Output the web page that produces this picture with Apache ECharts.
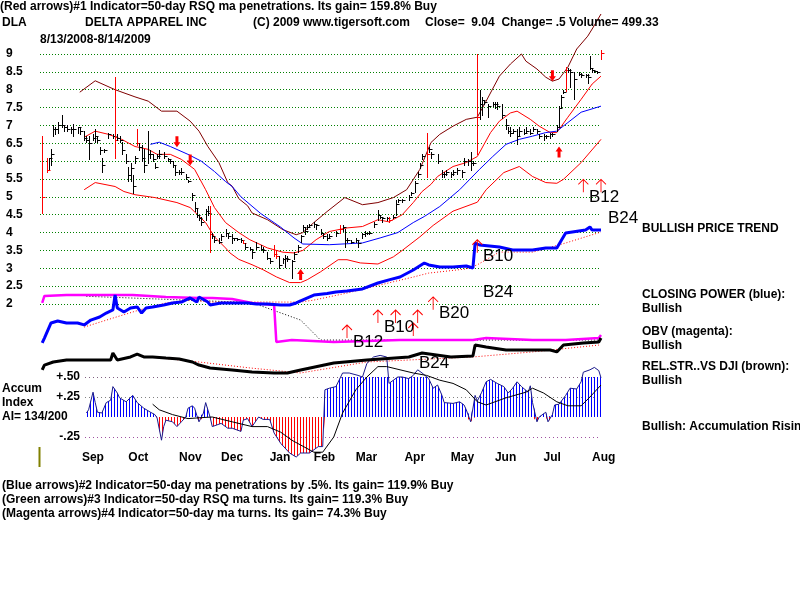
<!DOCTYPE html>
<html>
<head>
<meta charset="utf-8">
<script src="https://cdn.jsdelivr.net/npm/echarts@6/dist/echarts.min.js"></script>
<style>
  html, body { margin: 0; padding: 0; background: #fff; }
  #chart { width: 800px; height: 600px; }
</style>
</head>
<body>
<div id="chart"></div>
<script>
// ---- data (x = trading day since 8/13/2008) ----
// price bars: [day, high, low, close]
var priceBars = [
  [0,6.7,4.55,5.0],[2,6.1,5.7,5.75],[3,6.1,5.77,6.1],[4,6.33,5.9,6.2],[5,7.0,6.7,6.9],[6,6.95,6.75,6.9],
  [7,7.1,6.8,7.0],[9,7.3,6.95,7.0],[10,7.0,6.85,6.95],[11,7.0,6.85,6.9],[13,6.95,6.8,6.9],[14,7.05,6.7,6.9],
  [16,6.95,6.8,6.95],[17,6.95,6.75,6.85],[19,6.85,6.6,6.65],[20,6.7,6.55,6.6],[21,6.7,6.05,6.5],[23,6.75,6.6,6.65],
  [24,6.9,6.55,6.7],[25,6.7,6.55,6.6],[26,6.4,6.2,6.3],[27,6.1,5.7,5.9],[28,6.35,6.25,6.3],[30,6.8,6.65,6.75],
  [32,6.75,6.65,6.7],[33,8.35,6.1,6.6],[34,6.75,6.6,6.65],[35,6.7,6.55,6.6],[36,6.55,6.2,6.3],[38,6.2,5.95,6.0],
  [39,5.85,5.45,5.6],[40,5.95,5.45,5.8],[41,5.6,5.1,5.3],[42,6.15,5.95,6.1],[43,6.9,6.45,6.5],[44,6.5,6.3,6.4],
  [45,6.45,6.0,6.1],[46,6.35,5.7,5.9],[48,6.85,5.95,6.2],[49,6.3,6.1,6.2],[50,6.2,6.0,6.05],[51,5.95,5.8,5.85],
  [52,6.2,6.1,6.15],[53,6.3,6.1,6.2],[55,6.25,6.1,6.15],[57,6.1,6.0,6.05],[58,6.05,5.95,6.0],[59,6.0,5.85,5.9],
  [60,5.9,5.6,5.7],[62,5.75,5.65,5.7],[63,5.8,5.65,5.7],[65,5.65,5.5,5.55],[66,5.48,5.42,5.45],[68,5.1,4.9,5.05],
  [69,4.85,4.6,4.7],[70,4.65,4.45,4.5],[71,4.5,4.35,4.4],[72,4.45,4.2,4.3],[74,4.65,4.35,4.6],[75,4.75,4.5,4.55],
  [76,4.75,3.45,3.95],[77,4.0,3.85,3.9],[78,3.9,3.75,3.8],[80,3.85,3.7,3.75],[81,3.95,3.8,3.9],[83,4.1,3.9,4.0],
  [84,4.0,3.85,3.9],[86,3.95,3.7,3.85],[87,3.85,3.8,3.85],[88,3.85,3.8,3.82],[90,3.85,3.75,3.8],[91,3.8,3.7,3.72],
  [92,3.7,3.55,3.6],[94,3.6,3.5,3.55],[95,3.5,3.3,3.45],[97,3.75,3.55,3.6],[99,3.65,3.5,3.55],[100,3.6,3.45,3.5],
  [102,3.45,3.25,3.3],[103,3.3,3.15,3.2],[105,3.65,3.35,3.4],[106,3.5,3.3,3.35],[107,3.35,3.0,3.1],[109,3.3,3.15,3.25],
  [110,3.38,3.05,3.3],[111,3.35,3.2,3.25],[113,3.24,2.73,3.2],[114,3.45,3.25,3.4],[116,3.65,3.45,3.6],[117,3.94,3.75,3.9],
  [118,4.2,4.05,4.15],[119,4.15,3.95,4.05],[120,4.2,4.1,4.15],[121,4.25,4.15,4.2],[123,4.3,4.15,4.25],[124,4.25,4.1,4.2],
  [126,4.1,3.95,4.0],[127,4.0,3.85,3.9],[129,3.95,3.8,3.85],[130,3.95,3.85,3.9],[133,4.05,3.9,4.0],[135,4.2,4.0,4.1],
  [136,4.2,4.05,4.15],[137,4.1,3.6,3.8],[138,3.85,3.75,3.8],[140,3.8,3.7,3.75],[142,3.85,3.75,3.8],[143,3.8,3.6,3.7],
  [145,4.0,3.85,3.95],[146,4.05,3.9,4.0],[147,4.0,3.95,4.0],[148,4.05,3.95,4.0],[150,4.3,4.15,4.25],[152,4.64,4.35,4.5],
  [153,4.5,4.4,4.45],[154,4.45,4.3,4.4],[156,4.45,4.35,4.4],[157,4.45,4.3,4.35],[159,4.5,4.4,4.45],[160,4.9,4.5,4.8],
  [161,4.95,4.85,4.9],[163,4.95,4.85,4.9],[166,5.05,4.9,5.0],[167,5.15,5.05,5.1],[169,5.45,5.15,5.4],[170,5.7,5.55,5.65],
  [171,5.95,5.8,5.9],[172,6.2,6.05,6.15],[174,6.8,5.57,6.2],[175,6.4,6.25,6.35],[176,6.27,6.1,6.2],[179,6.2,5.95,6.0],
  [181,5.75,5.55,5.65],[182,5.7,5.55,5.65],[183,5.75,5.6,5.7],[185,5.7,5.55,5.65],[186,5.75,5.6,5.7],[188,5.8,5.65,5.75],
  [190,5.75,5.55,5.7],[191,6.1,5.9,6.0],[193,6.05,5.9,6.0],[194,6.27,5.75,5.95],[195,6.0,5.9,5.95],[197,9.0,6.2,7.25],
  [198,8.0,7.17,7.6],[199,7.8,7.3,7.7],[200,7.7,7.6,7.65],[202,7.6,7.25,7.55],[204,7.65,7.55,7.6],[205,7.65,7.5,7.6],
  [206,7.65,7.45,7.55],[208,7.6,7.2,7.3],[210,7.17,6.9,7.0],[211,6.95,6.8,6.85],[212,6.95,6.7,6.8],[213,6.9,6.8,6.85],
  [215,6.9,6.47,6.7],[216,6.95,6.7,6.85],[218,6.9,6.75,6.8],[219,6.95,6.8,6.85],[221,6.9,6.75,6.8],[222,6.95,6.85,6.9],
  [224,6.9,6.8,6.85],[225,6.75,6.65,6.7],[227,6.75,6.6,6.7],[228,6.72,6.65,6.7],[230,6.8,6.65,6.75],[231,6.8,6.7,6.75],
  [233,7.0,6.85,6.95],[234,7.55,6.98,7.5],[235,7.85,7.5,7.8],[236,7.98,7.9,7.95],[237,8.63,7.96,8.55],[238,8.6,8.5,8.55],
  [239,8.58,8.07,8.5],[241,8.5,7.73,8.3],[243,8.5,8.4,8.45],[244,8.47,8.35,8.4],[246,8.45,8.35,8.4],[247,8.45,8.2,8.35],
  [248,8.95,8.57,8.6],[249,8.6,8.5,8.55],[250,8.55,8.5,8.52],[251,8.52,8.48,8.5],[253,9.1,8.85,9.04]
];
var redBarDays = [0, 2, 33, 43, 76, 91, 105, 106, 135, 157, 174, 197, 237, 253];

var brownBand = [[17,7.93],[24,8.25],[33,8.0],[42,7.8],[48,7.68],[54,7.4],[61,7.4],[67,7.12],[71,6.84],[75,6.41],
  [80,5.96],[84,5.4],[86,5.3],[89,4.95],[93,4.75],[95,4.55],[102,4.36],[109,4.08],[115,3.94],[118,4.0],[123,4.28],
  [129,4.59],[137,4.98],[145,4.78],[152,4.84],[159,4.98],[165,5.2],[171,5.77],[176,6.52],[180,6.75],[186,6.98],
  [192,7.17],[197,7.23],[201,7.68],[207,8.38],[212,8.72],[217,9.0],[219,8.8],[224,8.58],[228,8.35],[231,8.24],
  [234,8.3],[238,8.63],[242,9.14],[247,9.5],[249,9.7],[253,10.12]];
var upperRed = [[19,6.67],[24,6.84],[30,6.75],[36,6.61],[42,6.41],[48,6.33],[52,6.19],[58,6.19],[63,6.05],[69,5.77],
  [74,5.2],[78,4.7],[83,4.28],[89,4.0],[94,3.8],[102,3.57],[109,3.45],[114,3.43],[118,3.5],[124,3.8],[130,4.03],
  [138,4.13],[145,4.17],[152,4.36],[157,4.3],[163,4.5],[168,4.84],[172,5.15],[176,5.35],[179,5.57],[186,5.85],
  [192,5.96],[197,6.13],[203,6.8],[207,7.12],[212,7.35],[215,7.4],[221,7.17],[225,6.98],[230,6.8],[233,6.8],
  [238,7.23],[244,7.73],[249,8.16],[253,8.38]];
var lowerRed = [[19,5.2],[24,5.4],[33,5.29],[37,5.15],[42,5.06],[51,4.98],[61,4.84],[67,4.7],[74,4.28],[78,3.88],
  [83,3.57],[85,3.43],[89,3.25],[95,3.1],[100,2.96],[106,2.76],[112,2.6],[117,2.6],[120,2.68],[126,2.9],[134,3.24],
  [138,3.24],[144,3.15],[152,3.12],[159,3.32],[163,3.5],[171,3.88],[177,4.2],[186,4.6],[197,4.85],[201,5.2],
  [209,5.68],[216,5.85],[222,5.57],[228,5.4],[233,5.38],[236,5.49],[244,5.96],[253,6.61]];
var blueMa = [[49,6.47],[53,6.53],[58,6.41],[66,6.19],[72,6.0],[78,5.71],[83,5.43],[86,5.29],[90,5.0],[99,4.53],
  [108,4.15],[114,3.85],[118,3.68],[130,3.66],[145,3.71],[153,3.85],[161,4.0],[168,4.28],[173,4.45],[180,4.73],
  [189,5.2],[198,5.77],[204,6.13],[210,6.47],[216,6.61],[222,6.7],[228,6.8],[233,6.84],[238,7.08],[244,7.37],[253,7.54]];

// signal arrows [day, price at tip]
var boldDownArrows = [[61,6.39],[67,5.88],[231,8.24]];
var boldUpArrows = [[117,2.98],[234,6.41]];
var thinUpArrows = [[245,5.49],[253,5.49],[197,3.8],[138,1.41],[152,1.83],[160,1.83],[170,1.83],[168,1.47],[177,2.2]];

// lower indicators (relative units 0..100)
var closingPower = [[0,20.6],[1,23.3],[4,31.7],[7,32.8],[11,31.7],[16,31.7],[19,30.6],[22,33.3],[26,35],[29,37.2],
  [32,38.9],[33,47.2],[34,40],[37,37.8],[40,40],[43,40.6],[45,37.2],[47,40],[50,40.6],[55,41.7],[59,42.8],[63,43.3],
  [67,45.6],[70,43.3],[71,46.1],[75,43.3],[76,41.7],[81,42.8],[86,42.8],[93,42.8],[97,42.2],[102,42.2],[108,41.7],
  [112,41.7],[115,42.8],[117,44],[123,47.2],[129,48],[133,48.9],[138,49.4],[145,50.6],[152,53.9],[157,55.6],
  [162,57.2],[168,61.1],[173,65],[175,63.9],[180,62.8],[186,62.8],[192,63.3],[195,62.2],[196,76.1],[198,75],
  [207,73.9],[213,72.2],[222,72.2],[228,73.3],[233,73.3],[237,81.7],[246,83.3],[248,85],[249,83.3],[253,83.3]];
var closingPowerMa = [[19,29.4],[32,34.4],[44,38.9],[56,42.8],[66,44.4],[77,43.3],[94,43.3],[117,43.3],[123,44.4],
  [138,48.3],[153,52.8],[168,57.2],[175,59.4],[192,61.7],[197,64],[207,71.1],[222,71],[237,76.1],[253,82.2]];
var obv = [[0,42.8],[1,46.7],[11,47.2],[26,47.2],[41,47.2],[56,46.1],[71,45.6],[77,45.6],[86,45],[95,42.8],
  [105,41.7],[106,21.1],[113,22.2],[132,21.1],[147,21.7],[162,22.2],[195,22.2],[201,23.3],[222,22.2],[237,22.2],
  [252,23.3],[253,25]];
var obvMa = [[20,46.5],[95,43],[117,33.3],[126,22.2],[253,22.2]];
var relStrength = [[0,5.6],[1,8.3],[5,10],[11,11.1],[19,11.1],[26,11.1],[31,11.1],[32,15],[34,11.1],[40,12.8],
  [43,14.4],[46,12.8],[50,12.8],[56,12.2],[62,11.7],[68,10],[71,8.3],[76,6.7],[86,5.6],[95,4.4],[105,3.9],[111,3.9],
  [117,5.6],[132,9.4],[147,11.1],[166,12.8],[172,15],[185,12.8],[195,13.3],[196,19.4],[201,18.3],[210,16.7],
  [222,16.7],[230,16.7],[233,15.6],[236,19.4],[245,20.6],[252,21.1],[253,23.3]];
var relStrengthMa = [[49,12.8],[71,10],[94,6.7],[117,3.9],[147,10],[195,12.8],[222,15.6],[252,19.4]];

// accumulation index
var accumIndex = [[20,0.05],[21,0.09],[23,0.31],[24,0.18],[25,0.06],[27,0.05],[29,0.18],[31,0.21],[32,0.38],
  [34,0.30],[35,0.24],[38,0.19],[41,0.27],[43,0.18],[46,0.11],[49,0.06],[51,0.03],[52,-0.01],[54,-0.29],[55,-0.12],
  [56,-0.04],[59,-0.06],[61,-0.12],[63,-0.06],[65,0.0],[66,0.11],[68,0.14],[69,0.11],[70,0.02],[71,-0.06],[73,0.05],
  [74,0.18],[76,0.0],[77,-0.12],[81,-0.08],[84,-0.14],[86,-0.14],[90,-0.18],[91,-0.04],[93,-0.02],[95,-0.12],[98,0.0],
  [100,-0.03],[103,-0.03],[105,-0.2],[108,-0.33],[112,-0.45],[115,-0.5],[117,-0.45],[121,-0.45],[125,-0.37],
  [127,-0.37],[128,0.34],[130,0.36],[133,0.38],[136,0.55],[139,0.55],[143,0.52],[145,0.5],[147,0.67],[150,0.75],
  [153,0.77],[156,0.75],[157,0.42],[159,0.46],[161,0.5],[163,0.5],[166,0.48],[168,0.52],[170,0.59],[172,0.55],
  [175,0.48],[177,0.36],[179,0.4],[181,0.27],[182,0.18],[186,0.17],[189,0.19],[191,0.15],[192,0.09],[194,-0.06],
  [196,0.27],[197,0.2],[199,0.31],[201,0.44],[203,0.47],[206,0.42],[209,0.38],[211,0.3],[213,0.36],[215,0.44],
  [217,0.38],[220,0.31],[221,0.39],[222,0.18],[224,-0.06],[225,0.0],[228,0.06],[229,-0.06],[231,0.03],[232,0.15],
  [234,0.16],[237,0.27],[239,0.36],[242,0.35],[244,0.44],[245,0.56],[248,0.59],[250,0.62],[252,0.58],[253,0.49]];
var accumIndexMa = [[50,0.16],[53,0.09],[59,0.03],[66,-0.02],[71,-0.01],[77,0.0],[86,-0.06],[95,-0.12],[102,-0.12],
  [108,-0.19],[113,-0.29],[117,-0.35],[123,-0.44],[127,-0.44],[132,-0.25],[136,0.05],[142,0.34],[147,0.5],
  [152,0.63],[156,0.63],[162,0.59],[168,0.55],[174,0.52],[180,0.46],[186,0.42],[192,0.34],[197,0.19],[201,0.15],
  [210,0.24],[219,0.31],[222,0.36],[227,0.3],[233,0.19],[238,0.14],[244,0.14],[248,0.25],[253,0.4]];

var monthNames = ['Sep','Oct','Nov','Dec','Jan','Feb','Mar','Apr','May','Jun','Jul','Aug'];
var monthStartDays = [13, 34, 57, 76, 98, 118, 137, 159, 180, 200, 222, 244];
var lastDay = 253;

// ---------------------------------------------------------------
var FONT = '"Liberation Sans", Arial, sans-serif';
var chart = echarts.init(document.getElementById('chart'), null, {renderer: 'canvas'});

// month label axis: one category per day, -1..lastDay
var dayCats = [];
for (var d = -1; d <= lastDay; d++) {
    var k = monthStartDays.indexOf(d);
    dayCats.push(k >= 0 ? monthNames[k] : '');
}

var bars = priceBars.map(function (b) {
    return [b[0], b[1], b[2], b[3], redBarDays.indexOf(b[0]) >= 0 ? 1 : 0];
});

function stripes(color) {
    var c = document.createElement('canvas');
    c.width = 3; c.height = 4;
    var g = c.getContext('2d');
    g.fillStyle = color;
    g.fillRect(0, 0, 1, 4);
    return {image: c, repeat: 'repeat'};
}

function txt(x, y, s, big) {
    return {
        type: 'text', x: x, y: y, z: 100,
        style: {
            text: s, fill: '#000', verticalAlign: 'middle',
            font: big ? '17px ' + FONT : 'bold 12px ' + FONT
        }
    };
}

function lineSeries(data, xi, color, width, dotted, z) {
    return {
        type: 'line', xAxisIndex: xi, yAxisIndex: xi, data: data,
        showSymbol: false, clip: false, silent: true, z: z || 2,
        lineStyle: {color: color, width: width, type: dotted ? [1, 2] : 'solid'}
    };
}

var DOWN = 'path://M2,0 L5,0 L5,6 L7,6 L3.5,11 L0,6 L2,6 Z';
var UP = 'path://M3.5,0 L7,5 L5,5 L5,11 L2,11 L2,5 L0,5 Z';
var THIN_UP = 'path://M5,0 L5,13 M0,5 L5,0 L10,5';

var option = {
    animation: false,
    backgroundColor: '#fff',
    grid: [
        {left: 40, width: 561, top: 54, height: 250, outerBoundsMode: 'none'},
        {left: 40, width: 561, top: 200, height: 180, outerBoundsMode: 'none'},
        {left: 85, width: 516, top: 377, height: 80, outerBoundsMode: 'none'},
        {left: 40, width: 561, top: 440, height: 10, outerBoundsMode: 'none'}
    ],
    xAxis: [
        {gridIndex: 0, type: 'value', min: -1, max: lastDay, show: false},
        {gridIndex: 1, type: 'value', min: -1, max: lastDay, show: false},
        {gridIndex: 2, type: 'value', min: 19.37, max: lastDay, show: false},
        {
            gridIndex: 3, type: 'category', data: dayCats, boundaryGap: false,
            axisLine: {show: false}, axisTick: {show: false}, splitLine: {show: false},
            axisLabel: {
                interval: function (i, v) { return v !== ''; },
                align: 'left', padding: [0, 0, 0, 11], margin: 2,
                color: '#000', fontFamily: FONT, fontWeight: 'bold', fontSize: 12
            }
        }
    ],
    yAxis: [
        {
            gridIndex: 0, type: 'value', min: 2, max: 9, interval: 0.5,
            axisLine: {show: false}, axisTick: {show: false},
            axisLabel: {align: 'left', margin: 34, color: '#000', fontFamily: FONT, fontWeight: 'bold', fontSize: 12},
            splitLine: {show: true, lineStyle: {color: '#008000', type: [1, 2], width: 1}}
        },
        {gridIndex: 1, type: 'value', min: 0, max: 100, show: false},
        {
            gridIndex: 2, type: 'value', min: -0.5, max: 0.5, interval: 0.25,
            axisLine: {show: false}, axisTick: {show: false},
            axisLabel: {
                margin: 5, color: '#000', fontFamily: FONT, fontWeight: 'bold', fontSize: 12,
                formatter: function (v) {
                    if (Math.abs(v - 0.5) < 1e-6) return '+.50';
                    if (Math.abs(v - 0.25) < 1e-6) return '+.25';
                    if (Math.abs(v + 0.25) < 1e-6) return '-.25';
                    return '';
                }
            },
            splitLine: {show: true, lineStyle: {color: ['rgba(0,0,0,0)', '#a050a0', 'rgba(0,0,0,0)', '#808080', '#806080'], type: [1, 3], width: 1}}
        },
        {gridIndex: 3, type: 'value', show: false}
    ],
    series: [
        // price panel bands
        lineSeries(brownBand, 0, '#800000', 1),
        lineSeries(upperRed, 0, '#ff0000', 1),
        lineSeries(lowerRed, 0, '#ff0000', 1),
        lineSeries(blueMa, 0, '#0000ff', 1),
        {
            type: 'custom', xAxisIndex: 0, yAxisIndex: 0, data: bars, clip: false, silent: true, z: 5,
            renderItem: function (params, api) {
                var pH = api.coord([api.value(0), api.value(1)]);
                var pL = api.coord([api.value(0), api.value(2)]);
                var pC = api.coord([api.value(0), api.value(3)]);
                var col = api.value(4) ? '#ff0000' : '#000000';
                var x = Math.round(pH[0]) + 0.5;
                var yc = Math.round(pC[1]) + 0.5;
                return {
                    type: 'group',
                    children: [
                        {type: 'line', shape: {x1: x, y1: Math.round(pH[1]), x2: x, y2: Math.round(pL[1]) + 1}, style: {stroke: col, lineWidth: 1}},
                        {type: 'line', shape: {x1: x, y1: yc, x2: x + 3, y2: yc}, style: {stroke: col, lineWidth: 1}}
                    ]
                };
            }
        },
        {
            type: 'scatter', xAxisIndex: 0, yAxisIndex: 0, data: boldDownArrows, clip: false, silent: true, z: 6,
            symbol: DOWN, symbolSize: [7, 11], symbolOffset: [0, '-50%'],
            itemStyle: {color: '#ff0000', opacity: 1}
        },
        {
            type: 'scatter', xAxisIndex: 0, yAxisIndex: 0, data: boldUpArrows, clip: false, silent: true, z: 6,
            symbol: UP, symbolSize: [7, 11], symbolOffset: [0, '50%'],
            itemStyle: {color: '#ff0000', opacity: 1}
        },
        {
            type: 'scatter', xAxisIndex: 0, yAxisIndex: 0, data: thinUpArrows, clip: false, silent: true, z: 6,
            symbol: THIN_UP, symbolSize: [10, 13], symbolOffset: [0, '50%'],
            itemStyle: {color: 'rgba(0,0,0,0)', borderColor: '#ff0000', borderWidth: 1, opacity: 1}
        },
        // lower indicators
        lineSeries(obvMa, 1, '#000000', 1, true, 2),
        lineSeries(closingPowerMa, 1, '#ff0000', 1, true, 2),
        lineSeries(relStrengthMa, 1, '#ff0000', 1, true, 2),
        lineSeries(obv, 1, '#ff00ff', 2.5, false, 3),
        lineSeries(closingPower, 1, '#0000ff', 3, false, 4),
        lineSeries(relStrength, 1, '#000000', 3, false, 4),
        // accumulation index
        {
            type: 'line', xAxisIndex: 2, yAxisIndex: 2, showSymbol: false, silent: true, z: 2,
            data: accumIndex.map(function (p) { return [p[0], Math.max(p[1], 0)]; }),
            lineStyle: {width: 0},
            areaStyle: {color: stripes('#0000ff'), opacity: 1}
        },
        {
            type: 'line', xAxisIndex: 2, yAxisIndex: 2, showSymbol: false, silent: true, z: 2,
            data: accumIndex.map(function (p) { return [p[0], Math.min(p[1], 0)]; }),
            lineStyle: {width: 0},
            areaStyle: {color: stripes('#ff0000'), opacity: 1}
        },
        lineSeries(accumIndex, 2, '#1a1a8c', 1, false, 3),
        lineSeries(accumIndexMa, 2, '#000000', 1, false, 4)
    ],
    graphic: [
        txt(0, 7, '(Red arrows)#1 Indicator=50-day RSQ ma penetrations. Its gain= 159.8% Buy'),
        txt(2, 23, 'DLA'),
        txt(85, 23, 'DELTA APPAREL INC'),
        txt(253, 23, '(C) 2009 www.tigersoft.com'),
        txt(425, 23, 'Close=  9.04  Change= .5 Volume= 499.33'),
        txt(40, 40, '8/13/2008-8/14/2009'),
        txt(642, 229, 'BULLISH PRICE TREND'),
        txt(642, 295, 'CLOSING POWER (blue):'),
        txt(642, 309, 'Bullish'),
        txt(642, 332, 'OBV (magenta):'),
        txt(642, 346, 'Bullish'),
        txt(642, 367, 'REL.STR..VS DJI (brown):'),
        txt(642, 381, 'Bullish'),
        txt(642, 427, 'Bullish: Accumulation Rising'),
        txt(2, 389, 'Accum'),
        txt(2, 403, 'Index'),
        txt(2, 417, 'AI= 134/200'),
        txt(2, 486, '(Blue arrows)#2 Indicator=50-day ma penetrations by .5%. Its gain= 119.9% Buy'),
        txt(2, 500, '(Green arrows)#3 Indicator=50-day RSQ ma turns. Its gain= 119.3% Buy'),
        txt(2, 514, '(Magenta arrows)#4 Indicator=50-day ma turns. Its gain= 74.3% Buy'),
        txt(589, 197, 'B12', true),
        txt(608, 218, 'B24', true),
        txt(483, 256, 'B10', true),
        txt(483, 292, 'B24', true),
        txt(439, 313, 'B20', true),
        txt(384, 327, 'B10', true),
        txt(353, 342, 'B12', true),
        txt(419, 363, 'B24', true),
        {type: 'line', shape: {x1: 39.5, y1: 447, x2: 39.5, y2: 467}, style: {stroke: '#808000', lineWidth: 2}}
    ]
};
chart.setOption(option);
</script>
</body>
</html>
